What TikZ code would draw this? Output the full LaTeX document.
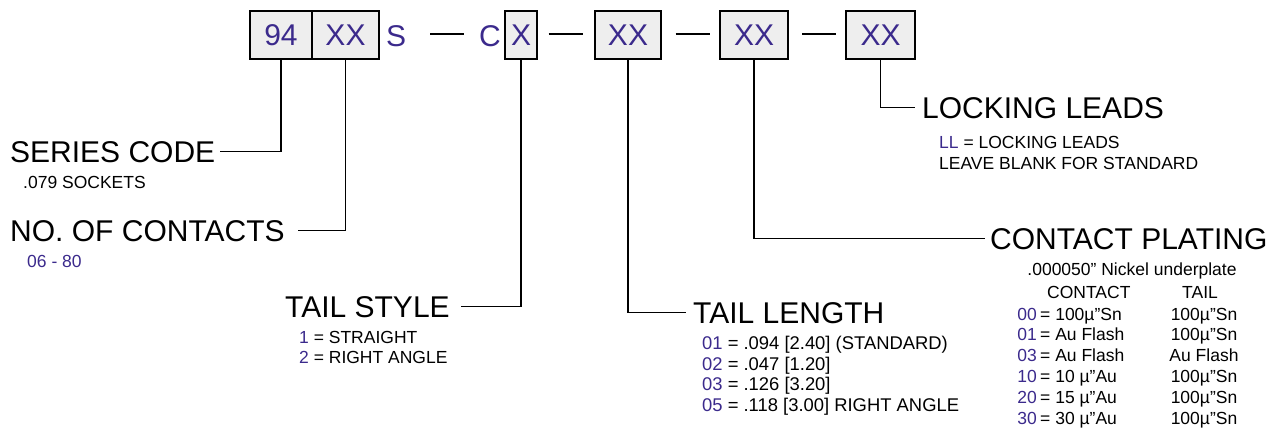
\documentclass[tikz,border=0pt]{standalone}
\usepackage{fontspec}
\setmainfont{Liberation Sans}
\usetikzlibrary{positioning}
\definecolor{codepurple}{HTML}{3B2A8C}
\definecolor{boxgray}{HTML}{EEEEEE}
\tikzset{
  field/.style  = {draw, line width=1.3pt, fill=boxgray, minimum height=48pt,
                   inner sep=0pt, text=codepurple, font=\fontsize{30}{36}\selectfont},
  letter/.style = {inner sep=0pt, text=codepurple, font=\fontsize{30}{36}\selectfont},
  title/.style  = {inner sep=0pt, font=\fontsize{30}{36}\selectfont},
  note/.style   = {inner sep=0pt, font=\fontsize{17.5}{21}\selectfont},
  bignote/.style = {note, font=\fontsize{18.4}{21}\selectfont},
  leader/.style = {line width=1.3pt},
  rule/.style   = {line width=1.5pt}
}
\newcommand{\cd}[1]{\textcolor{codepurple}{#1}}

\begin{document}
\begin{tikzpicture}[x=1pt,y=-1pt]
\useasboundingbox (0,0) rectangle (1284,428);

% the part number, boxes and letters
\node[field, minimum width=62pt] (b1) at (281,35) {94};
\node[field, minimum width=67pt] (b2) at (345.5,35) {XX};
\node[letter] (s) at (396,36) {S};
\node[letter] (c) at (490,36) {C};
\node[field, minimum width=32pt] (b3) at (521,35) {X};
\node[field, minimum width=66pt] (b4) at (628,35) {XX};
\node[field, minimum width=68pt] (b5) at (754,35) {XX};
\node[field, minimum width=69pt] (b6) at (880.5,35) {XX};

% dashes between the groups
\foreach \x in {447,565.5,692.5,819}
  \draw[rule] (\x-17,34) -- (\x+17,34);

% the titles
\node[title, anchor=base west] (series)    at (10,162)  {SERIES CODE};
\node[title, anchor=base west] (contacts)  at (10,241)  {NO. OF CONTACTS};
\node[title, anchor=base west] (tailstyle) at (285,317) {TAIL STYLE};
\node[title, anchor=base west] (taillen)   at (693,323) {TAIL LENGTH};
\node[title, anchor=base west] (plating)   at (990,249) {CONTACT PLATING};
\node[title, anchor=base west] (locking)   at (922,118) {LOCKING LEADS};

% the notes under each title
\node[note, anchor=base west] (sockets) at (23,188) {.079 SOCKETS};
\node[note, anchor=base west, text=codepurple] (range) at (27,267) {06 - 80};

\foreach \code/\txt [count=\i] in {1/STRAIGHT, 2/RIGHT ANGLE}
  \node[note, anchor=base west] (ts\i) at (299,323+20*\i) {\cd{\code} = \txt};

\foreach \code/\txt [count=\i] in {01/{.094 [2.40] (STANDARD)}, 02/{.047 [1.20]},
                                   03/{.126 [3.20]}, 05/{.118 [3.00] RIGHT ANGLE}}
  \node[bignote, anchor=base west] (tl\i) at (702,328.6+20.7*\i) {\cd{\code} = \txt};

\node[note, anchor=base west] (ll1) at (939,148) {\cd{LL} = LOCKING LEADS};
\node[note, anchor=base west] (ll2) at (939,169) {LEAVE BLANK FOR STANDARD};

\node[note, anchor=base] (nickel) at (1132,275) {.000050” Nickel underplate};
\node[note, anchor=base west] (hcont) at (1047,298) {CONTACT};
\node[note, anchor=base] (htail) at (1200,298) {TAIL};
\foreach \code/\cont/\tail [count=\i] in {00/100µ”Sn/100µ”Sn, 01/Au Flash/100µ”Sn,
    03/Au Flash/Au Flash, 10/10 µ”Au/100µ”Sn, 20/15 µ”Au/100µ”Sn, 30/30 µ”Au/100µ”Sn}
{
  \node[note, anchor=base east, text=codepurple] (pc\i) at (1037,299.2+20.8*\i) {\code};
  \node[note, anchor=base west] (pv\i) at (1040,299.2+20.8*\i) {= \cont};
  \node[note, anchor=base] (pt\i) at (1204,299.2+20.8*\i) {\tail};
}

% leaders from each box to its title
\draw[leader, shorten >=5pt]  (b1.south) |- (series.east);
\draw[leader, shorten >=13pt] (b2.south) |- (contacts.east);
\draw[leader, shorten >=11pt] (b3.south) |- (tailstyle.east);
\draw[leader, shorten >=7pt]  (b4.south) |- (taillen.west);
\draw[leader, shorten >=5pt]  (b5.south) |- (plating.west);
\draw[leader, shorten >=7pt]  (b6.south) |- (locking.west);
\end{tikzpicture}
\end{document}
